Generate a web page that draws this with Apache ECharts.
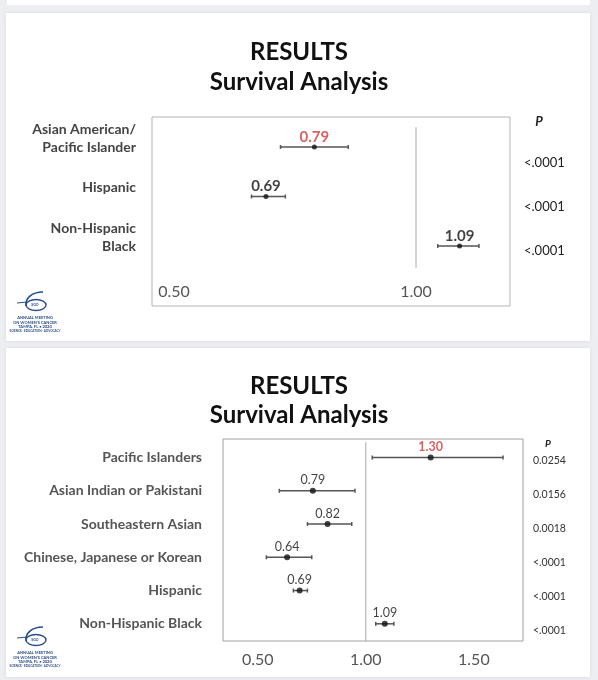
<!DOCTYPE html>
<html>
<head>
<meta charset="utf-8">
<script src="https://cdn.jsdelivr.net/npm/echarts@6/dist/echarts.min.js"></script>
<style>
html, body { margin: 0; padding: 0; background: #eceef1; }
#chart { width: 598px; height: 680px; }
</style>
</head>
<body>
<div id="chart"></div>
<script>
// top slide
var topGroups = ['Asian American/\nPacific Islander', 'Hispanic', 'Non-Hispanic\nBlack'];
var topHR = [0.79, 0.69, 1.09];
var topLow = [0.72, 0.66, 1.045];
var topHigh = [0.86, 0.73, 1.13];
var topP = ['<.0001', '<.0001', '<.0001'];
var topTicks = [0.5, 1.0];

// bottom slide
var botGroups = ['Pacific Islanders', 'Asian Indian or Pakistani', 'Southeastern Asian',
    'Chinese, Japanese or Korean', 'Hispanic', 'Non-Hispanic Black'];
var botHR = [1.30, 0.79, 0.82, 0.64, 0.69, 1.09];
var botDot = [1.30, 0.755, 0.823, 0.636, 0.694, 1.088]; // dot as drawn on the slide
var botLow = [1.03, 0.60, 0.73, 0.54, 0.665, 1.046];
var botHigh = [1.635, 0.95, 0.935, 0.75, 0.73, 1.13];
var botP = ['0.0254', '0.0156', '0.0018', '<.0001', '<.0001', '<.0001'];
var botTicks = [0.5, 1.0, 1.5];

var highlightRow = 0;
var RED = '#d03a3a';
var BLUE = '#2b4c8c';
var FONT = 'Lato, "Open Sans", sans-serif';

var myChart = echarts.init(document.getElementById('chart'));

function idx(list) {
    return list.map(function (d, i) { return i; });
}

// confidence interval bars with small end caps
function ciSeries(low, high, xi, yi) {
    return {
        type: 'custom',
        xAxisIndex: xi,
        yAxisIndex: yi,
        silent: true,
        encode: {x: [0, 1], y: 2},
        data: low.map(function (l, i) { return [l, high[i], i]; }),
        renderItem: function (params, api) {
            var a = api.coord([api.value(0), api.value(2)]);
            var b = api.coord([api.value(1), api.value(2)]);
            var st = {stroke: '#555', lineWidth: 1.5};
            return {
                type: 'group',
                children: [
                    {type: 'line', shape: {x1: a[0], y1: a[1], x2: b[0], y2: b[1]}, style: st},
                    {type: 'line', shape: {x1: a[0], y1: a[1] - 2, x2: a[0], y2: a[1] + 2}, style: st},
                    {type: 'line', shape: {x1: b[0], y1: b[1] - 2, x2: b[0], y2: b[1] + 2}, style: st}
                ]
            };
        }
    };
}

function dotSeries(dot, hr, xi, yi, size, fontSize, bold, dist) {
    return {
        type: 'scatter',
        xAxisIndex: xi,
        yAxisIndex: yi,
        symbolSize: size,
        silent: true,
        itemStyle: {color: '#111'},
        label: {
            show: true,
            position: 'top',
            distance: dist,
            fontFamily: FONT,
            fontSize: fontSize,
            formatter: function (p) { return hr[p.dataIndex].toFixed(2); }
        },
        data: dot.map(function (v, i) {
            var red = i === highlightRow;
            return {
                value: [v, i],
                label: {color: red ? RED : '#111', fontWeight: (red || bold) ? 'bold' : 'normal'}
            };
        })
    };
}

function refLine(xi, yi, y0, y1) {
    return {
        type: 'line',
        xAxisIndex: xi,
        yAxisIndex: yi,
        silent: true,
        symbol: 'none',
        lineStyle: {color: '#aaa', width: 1},
        data: [[1, y0], [1, y1]]
    };
}

function logo(y) {
    var txt = function (t, ty, s) {
        return {type: 'text', x: 22, y: ty, style: {text: t, fill: BLUE, fontSize: s, fontFamily: FONT,
            fontWeight: 'bold', textAlign: 'center', textVerticalAlign: 'middle'}};
    };
    return {
        type: 'group', x: 13, y: y, z: 5,
        children: [
            {type: 'ellipse', shape: {cx: 23, cy: 14, rx: 10, ry: 5.5},
                style: {fill: 'none', stroke: BLUE, lineWidth: 1.4}},
            {type: 'bezierCurve', shape: {x1: 30, y1: 1, cpx1: 18, cpy1: 1, cpx2: 12, cpy2: 8, x2: 13, y2: 15},
                style: {fill: 'none', stroke: BLUE, lineWidth: 1.6}},
            {type: 'line', shape: {x1: 4, y1: 12, x2: 14, y2: 11},
                style: {stroke: BLUE, lineWidth: 1}},
            txt('SGO', 14, 3.5),
            txt('ANNUAL MEETING', 27, 4),
            txt("ON WOMEN'S CANCER", 31.5, 4),
            txt('TAMPA, FL \u2022 2020', 36, 4),
            txt('SCIENCE \u00b7 EDUCATION \u00b7 ADVOCACY', 40, 3)
        ]
    };
}

var titleStyle = {fontFamily: FONT, fontSize: 24, fontWeight: 'bold', color: '#111', lineHeight: 30};

myChart.setOption({
    animation: false,
    title: [
        {text: 'RESULTS\nSurvival Analysis', left: 'center', top: 32, textStyle: titleStyle},
        {text: 'RESULTS\nSurvival Analysis', left: 'center', top: 367,
            textStyle: Object.assign({}, titleStyle, {lineHeight: 29})}
    ],
    graphic: [
        {type: 'rect', z: -1, shape: {x: 7, y: 0, width: 583, height: 5}, style: {fill: '#fff'}},
        {type: 'rect', z: -1, shape: {x: 6, y: 13, width: 584, height: 328},
            style: {fill: '#fff', shadowBlur: 4, shadowColor: 'rgba(0,0,0,0.08)'}},
        {type: 'rect', z: -1, shape: {x: 6, y: 348, width: 584, height: 329},
            style: {fill: '#fff', shadowBlur: 4, shadowColor: 'rgba(0,0,0,0.08)'}},
        {type: 'text', x: 539, y: 122, style: {text: 'P', fill: '#222', fontSize: 13, fontFamily: FONT,
            fontWeight: 'bold', fontStyle: 'italic', textAlign: 'center', textVerticalAlign: 'middle'}},
        {type: 'text', x: 548, y: 444, style: {text: 'P', fill: '#222', fontSize: 10, fontFamily: FONT,
            fontWeight: 'bold', fontStyle: 'italic', textAlign: 'center', textVerticalAlign: 'middle'}},
        logo(291),
        logo(626)
    ],
    grid: [
        {left: 152, top: 117, width: 358, height: 189, show: true, borderColor: '#b4b4b4', borderWidth: 1},
        {left: 223, top: 439, width: 300, height: 202, show: true, borderColor: '#a0a0a0', borderWidth: 1}
    ],
    xAxis: [
        {
            gridIndex: 0, type: 'value', min: 0.4545, max: 1.1942,
            axisLine: {show: false}, axisTick: {show: false}, splitLine: {show: false},
            axisLabel: {inside: true, margin: 6, customValues: topTicks, fontFamily: FONT, fontSize: 16,
                color: '#555', formatter: function (v) { return v.toFixed(2); }}
        },
        {
            gridIndex: 1, type: 'value', min: 0.3394, max: 1.7273,
            axisLine: {show: false}, axisTick: {show: false}, splitLine: {show: false},
            axisLabel: {margin: 11, customValues: botTicks, fontFamily: FONT, fontSize: 16,
                color: '#555', formatter: function (v) { return v.toFixed(2); }}
        }
    ],
    yAxis: [
        {
            gridIndex: 0, type: 'value', inverse: true, min: -0.606, max: 3.212,
            axisLine: {show: false}, axisTick: {show: false}, splitLine: {show: false},
            // trailing blank line lifts the names to sit level with the value labels
            axisLabel: {customValues: idx(topGroups), margin: 16,
                fontFamily: FONT, fontSize: 14, fontWeight: 'bold', color: '#444', lineHeight: 18,
                formatter: function (v) { return topGroups[Math.round(v)] + '\n '; }}
        },
        {
            gridIndex: 0, type: 'value', position: 'right', inverse: true, min: -1.045, max: 3.25,
            axisLine: {show: false}, axisTick: {show: false}, splitLine: {show: false},
            axisLabel: {customValues: idx(topP), margin: 14, fontFamily: FONT, fontSize: 13, color: '#222',
                formatter: function (v) { return topP[Math.round(v)]; }}
        },
        {
            gridIndex: 1, type: 'value', inverse: true, min: -0.558, max: 5.517,
            axisLine: {show: false}, axisTick: {show: false}, splitLine: {show: false},
            axisLabel: {customValues: idx(botGroups), margin: 21,
                fontFamily: FONT, fontSize: 14, fontWeight: 'bold', color: '#555',
                formatter: function (v) { return botGroups[Math.round(v)]; }}
        },
        {
            gridIndex: 1, type: 'value', position: 'right', inverse: true, min: -0.622, max: 5.292,
            axisLine: {show: false}, axisTick: {show: false}, splitLine: {show: false},
            axisLabel: {customValues: idx(botP), margin: 10, fontFamily: FONT, fontSize: 10.5, color: '#333',
                formatter: function (v) { return botP[Math.round(v)]; }}
        }
    ],
    series: [
        refLine(0, 0, -0.4, 2.44),
        ciSeries(topLow, topHigh, 0, 0),
        dotSeries(topHR, topHR, 0, 0, 5, 15, true, 0),
        refLine(1, 2, -0.46, 5.517),
        ciSeries(botLow, botHigh, 1, 2),
        dotSeries(botDot, botHR, 1, 2, 6, 12.5, false, 1)
    ]
});
</script>
</body>
</html>
